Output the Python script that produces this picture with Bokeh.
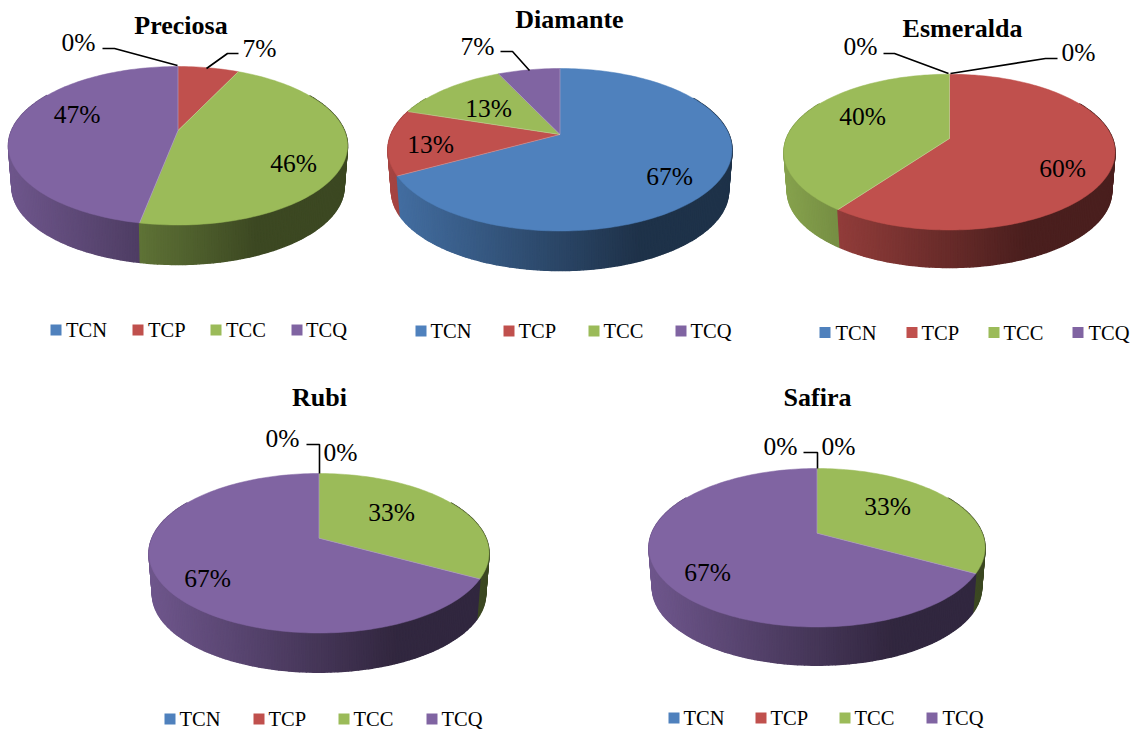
import math
from bokeh.plotting import figure
from bokeh.models import Range1d
from bokeh.core.properties import value
from bokeh.embed import file_html
from bokeh.resources import INLINE

categories = ["TCN", "TCP", "TCC", "TCQ"]
colors = ["#4F81BD", "#C0504D", "#9BBB59", "#8064A2"]
titles = ["Preciosa", "Diamante", "Esmeralda", "Rubi", "Safira"]
preciosa = [0, 7, 46, 47]
diamante = [67, 13, 13, 7]
esmeralda = [0, 60, 40, 0]
rubi = [0, 0, 33, 67]
safira = [0, 0, 33, 67]
series = [preciosa, diamante, esmeralda, rubi, safira]

# page-pixel layout of each pie
layouts = [
    dict(ax=177.5, ay=130, top=66, bot=224.5, rx=169.5, wall=264,
         title=(180.5, 25),
         labels={0: (78, 42), 1: (259, 48), 2: (293, 163), 3: (76.5, 114)},
         leaders=[[(102, 48), (114, 48), (177, 65)], [(238, 53), (227, 53), (206, 68)]],
         sq=[50, 132, 210, 291], tx=[65.5, 147.5, 225.5, 305.5], ly=329.5),
    dict(ax=559.5, ay=134, top=68, bot=230.5, rx=172, wall=270,
         title=(569, 19),
         labels={0: (669, 176), 1: (430, 144), 2: (488, 108), 3: (477, 46)},
         leaders=[[(500, 51), (512, 51), (529, 70)]],
         sq=[415, 503, 588, 675], tx=[430, 518, 603, 690], ly=330.5),
    dict(ax=949, ay=138, top=73.7, bot=229.5, rx=165.5, wall=267,
         title=(962, 28),
         labels={0: (1078, 52), 1: (1062, 168), 2: (862, 116), 3: (860, 46)},
         leaders=[[(883, 53), (894, 53), (948, 73)], [(1057, 58), (1045, 58), (950, 73)]],
         sq=[819, 906, 988, 1072], tx=[835, 921, 1003, 1088], ly=332),
    dict(ax=318.5, ay=537.7, top=473, bot=632.5, rx=170, wall=671.7,
         title=(319, 397),
         labels={0: (340, 452), 1: (282, 438), 2: (391, 512), 3: (207, 578)},
         leaders=[[(306, 444), (319, 444), (319, 473)]],
         sq=[164, 253, 338, 426], tx=[179, 268, 353, 441], ly=718.5),
    dict(ax=816.5, ay=532.7, top=468, bot=626.5, rx=168, wall=664.7,
         title=(817, 397),
         labels={0: (838, 446), 1: (780, 446), 2: (887, 506), 3: (707, 572)},
         leaders=[[(803, 452), (817, 452), (817, 468)]],
         sq=[668, 755, 839, 926], tx=[683, 770, 854, 942], ly=717.5),
]

W, H = 1138, 730
p = figure(width=W, height=H, output_backend="svg", toolbar_location=None,
           x_range=Range1d(0, W), y_range=Range1d(H, 0),
           min_border=0, outline_line_color=None, tools="")
p.axis.visible = False
p.grid.visible = False
p.background_fill_color = "white"
p.border_fill_color = "white"

SERIF = value("Liberation Serif")


def shade(hex_color, f):
    r, g, b = (int(hex_color[i:i + 2], 16) for i in (1, 3, 5))
    return "#%02x%02x%02x" % (int(r * f), int(g * f), int(b * f))


def projector(L, scale=1.0, drop=0.0):
    up = L["ay"] - L["top"]
    down = L["bot"] - L["ay"]
    c = (down - up) / (down + up)
    A = up * (1 + c)
    B = L["rx"] * math.sqrt(1 - c * c)

    def P(theta_deg):
        t = math.radians(theta_deg)
        u, v = math.sin(t), math.cos(t)
        w = 1 + c * v
        return (L["ax"] + scale * B * u / w, L["ay"] - scale * A * v / w + drop)
    return P


for name, vals, L in zip(titles, series, layouts):
    S = 0.98
    base_bottom = L["ay"] + S * (L["bot"] - L["ay"])
    top_P = projector(L)
    bot_P = projector(L, S, L["wall"] - base_bottom)
    total = sum(vals)
    left = L["ax"] - L["rx"]

    # side wall
    start = 0.0
    quads = []
    for v, col in zip(vals, colors):
        sweep = 360.0 * v / total
        if v:
            n = max(1, int(math.ceil(sweep)))
            for i in range(n):
                a0 = start + sweep * i / n
                a1 = start + sweep * (i + 1) / n
                mid = (a0 + a1) / 2
                if 60 < mid < 300:
                    q0, q1 = top_P(a0), top_P(a1)
                    q2, q3 = bot_P(a1), bot_P(a0)
                    nx = ((q0[0] + q1[0]) / 2 - left) / (2 * L["rx"])
                    f = max(0.39, 0.87 - 0.66 * nx)
                    quads.append((q0, q1, q2, q3, shade(col, f)))
        start += sweep
    quads.sort(key=lambda q: q[0][1])
    p.patches([[c[0] for c in q[:4]] for q in quads],
              [[c[1] for c in q[:4]] for q in quads],
              fill_color=[q[4] for q in quads], line_color=[q[4] for q in quads],
              line_width=1.5)

    # top face
    start = 0.0
    for v, col in zip(vals, colors):
        sweep = 360.0 * v / total
        if v:
            n = max(2, int(math.ceil(sweep / 1.5)))
            pts = [(L["ax"], L["ay"])] + [top_P(start + sweep * i / n) for i in range(n + 1)]
            p.patch([a for a, _ in pts], [b for _, b in pts], fill_color=col,
                    line_color=col, line_width=0.5)
        start += sweep

    # faint highlights along slice borders
    start = 0.0
    for v in vals:
        sweep = 360.0 * v / total
        if v:
            e = top_P(start)
            p.line([L["ax"], e[0]], [L["ay"], e[1]], line_color="white", line_alpha=0.3, line_width=0.8)
        start += sweep

    # leaders
    for seg in L["leaders"]:
        p.line([a for a, _ in seg], [b for _, b in seg], line_color="black", line_width=1.6)

    # percent labels
    for i, pos in L["labels"].items():
        p.text([pos[0]], [pos[1]], text=[f"{vals[i]}%"], text_font=SERIF, text_font_size="25.5px",
               text_color="black", text_align="center", text_baseline="middle")

    # title
    p.text([L["title"][0]], [L["title"][1]], text=[name], text_font=SERIF, text_font_size="26px",
           text_font_style="bold", text_color="black", text_align="center", text_baseline="middle")

    # legend
    for cat, col, sx, tx in zip(categories, colors, L["sq"], L["tx"]):
        p.rect([sx + 5.5], [L["ly"]], width=11, height=11, fill_color=col, line_color=None)
        p.text([tx], [L["ly"]], text=[cat], text_font=SERIF, text_font_size="20.5px",
               text_color="black", text_align="left", text_baseline="middle")

open("out.html", "w").write(file_html(p, INLINE))
